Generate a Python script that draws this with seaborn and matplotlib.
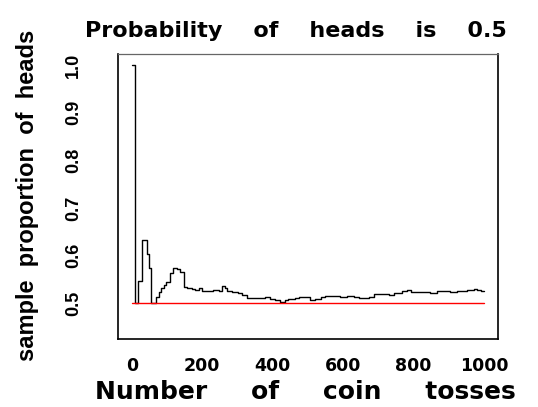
import matplotlib
matplotlib.use("Agg")
import matplotlib.pyplot as plt
import seaborn as sns
from matplotlib import font_manager

# running sample proportion of heads
# (toss number where each level starts, proportion at that level)
toss_n = [1, 10, 17, 28, 43, 49, 55, 68, 76, 83, 91, 98, 109, 118, 128, 138,
          149, 156, 171, 180, 190, 199, 208, 232, 249, 256, 265, 270, 284, 303,
          313, 327, 346, 379, 393, 408, 422, 436, 445, 464, 474, 507, 521, 536,
          550, 592, 611, 630, 645, 654, 673, 687, 730, 744, 768, 782, 792, 848,
          867, 905, 924, 953, 972, 981, 991, 1000]
prop = [1.0, 0.5, 0.547, 0.633, 0.603, 0.573, 0.5, 0.514, 0.524, 0.531, 0.538,
        0.545, 0.563, 0.573, 0.571, 0.566, 0.534, 0.531, 0.529, 0.527, 0.532,
        0.526, 0.525, 0.528, 0.525, 0.536, 0.533, 0.526, 0.524, 0.521, 0.517,
        0.510, 0.512, 0.514, 0.508, 0.507, 0.503, 0.507, 0.509, 0.512, 0.513,
        0.507, 0.509, 0.514, 0.516, 0.514, 0.516, 0.514, 0.512, 0.510, 0.514,
        0.519, 0.517, 0.521, 0.526, 0.528, 0.524, 0.522, 0.526, 0.524, 0.526,
        0.527, 0.529, 0.527, 0.525, 0.525]

p_heads = 0.5
n_tosses = 1000
x_ticks = [0, 200, 400, 600, 800, 1000]
y_ticks = [0.5, 0.6, 0.7, 0.8, 0.9, 1.0]

sns.set_style("white")
plt.rcParams["font.family"] = ["DejaVu Sans"]
plt.rcParams["text.color"] = "black"
plt.rcParams["axes.labelcolor"] = "black"
plt.rcParams["xtick.color"] = "black"
plt.rcParams["ytick.color"] = "black"

installed = {f.name for f in font_manager.fontManager.ttflist}
if "Liberation Sans Narrow" in installed:
    narrow, ylab_size, ytick_size = "Liberation Sans Narrow", 21, 15
else:
    narrow, ylab_size, ytick_size = "Liberation Sans", 17, 13

fig = plt.figure(figsize=(5.38, 4.07), dpi=100)
ax = fig.add_axes([118 / 538, 68 / 407, 380 / 538, 285 / 407])

sns.lineplot(x=toss_n, y=prop, drawstyle="steps-post", color="black",
             linewidth=1.0, ax=ax)
sns.lineplot(x=[1, n_tosses], y=[p_heads, p_heads], color="red",
             linewidth=1.0, ax=ax)

ax.set_xlim(-39, 1040)
ax.set_ylim(0.425, 1.023)
ax.set_xticks(x_ticks)
ax.set_yticks(y_ticks)
ax.set_xticklabels([str(v) for v in x_ticks], fontsize=12.5, fontweight="bold")
ax.set_yticklabels(["%.1f" % v for v in y_ticks], rotation=90, va="center",
                   fontsize=ytick_size, fontweight="bold", family=narrow)
ax.tick_params(axis="x", length=6, width=1.0, pad=7)
ax.tick_params(axis="y", length=9, width=1.0, pad=17)

for side in ["left", "bottom", "right"]:
    ax.spines[side].set_color("black")
    ax.spines[side].set_linewidth(1.2)
ax.spines["top"].set_color("#666666")
ax.spines["top"].set_linewidth(0.9)

ax.set_xlabel("Number     of     coin     tosses", fontsize=18,
              fontweight="bold", va="baseline")
ax.xaxis.set_label_coords(187 / 380, -60 / 285)
ax.set_ylabel("sample  proportion  of  heads", fontsize=ylab_size,
              fontweight="bold", family=narrow, va="center")
ax.yaxis.set_label_coords(-90 / 380, 144 / 285)

fig.text(296 / 538, 1 - 37 / 407, "Probability    of    heads    is    0.5",
         ha="center", va="baseline", fontsize=16, fontweight="bold")

fig.savefig("out.png", dpi=100)
